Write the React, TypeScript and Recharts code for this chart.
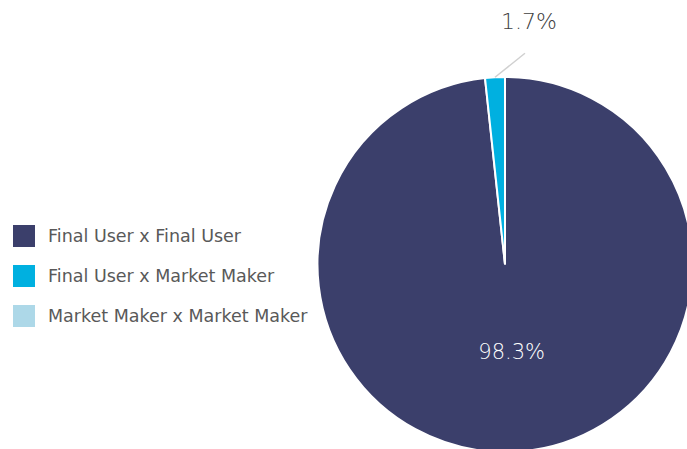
import { PieChart, Pie, Cell, Legend } from "recharts";

const categories = [
  "Final User x Final User",
  "Final User x Market Maker",
  "Market Maker x Market Maker",
];
const shares = [98.3, 1.7, 0];
const colors = ["#3b3f6b", "#00b0e0", "#add8e8"];

const data = categories.map((name, i) => ({ name, value: shares[i] }));

const RADIAN = Math.PI / 180;

const renderLabel = (props: any) => {
  const { cx, cy, midAngle, outerRadius, value } = props;
  if (!value) return null;
  const cos = Math.cos(-midAngle * RADIAN);
  const sin = Math.sin(-midAngle * RADIAN);
  if (value > 50) {
    const r = outerRadius * 0.47;
    return (
      <text
        x={cx + r * cos + 2}
        y={cy + r * sin}
        fill="#ffffff"
        textAnchor="middle"
        dominantBaseline="central"
        fontSize={21}
        fontFamily="'DejaVu Sans', sans-serif"
        fontWeight={300}
      >
        {value.toFixed(1)}%
      </text>
    );
  }
  const sx = cx + outerRadius * cos;
  const sy = cy + outerRadius * sin;
  const ex = sx + 30;
  const ey = sy - 24;
  return (
    <g>
      <line x1={sx} y1={sy} x2={ex} y2={ey} stroke="#d0d0d0" strokeWidth={1.5} />
      <text
        x={ex + 4}
        y={ey - 32}
        fill="#404040"
        textAnchor="middle"
        dominantBaseline="central"
        fontSize={22}
        fontFamily="'DejaVu Sans', sans-serif"
        fontWeight={300}
      >
        {value.toFixed(1)}%
      </text>
    </g>
  );
};

const LegendContent = () => (
  <div>
    {categories.map((name, i) => (
      <div
        key={name}
        style={{ display: "flex", alignItems: "center", height: 40 }}
      >
        <div
          style={{ width: 22, height: 22, background: colors[i], marginRight: 13 }}
        />
        <span
          style={{
            fontFamily: "'DejaVu Sans', sans-serif",
            fontSize: 17.5,
            color: "#595959",
          }}
        >
          {name}
        </span>
      </div>
    ))}
  </div>
);

const App = () => {
  return (
    <div
      style={{
        position: "fixed",
        left: 0,
        top: 0,
        width: 687,
        height: 449,
        overflow: "hidden",
        background: "#ffffff",
      }}
    >
      <PieChart
        width={687}
        height={449}
        margin={{ top: 0, right: 0, bottom: 0, left: 0 }}
      >
        <Pie
          data={data}
          dataKey="value"
          nameKey="name"
          cx={505}
          cy={264.5}
          outerRadius={187.5}
          startAngle={90}
          endAngle={-270}
          stroke="#ffffff"
          strokeWidth={2}
          label={renderLabel}
          labelLine={false}
          isAnimationActive={false}
        >
          {data.map((d, i) => (
            <Cell key={d.name} fill={colors[i]} />
          ))}
        </Pie>
        <Legend
          content={<LegendContent />}
          wrapperStyle={{ left: 13, top: 216, width: 320 }}
        />
      </PieChart>
    </div>
  );
};

export default App;
